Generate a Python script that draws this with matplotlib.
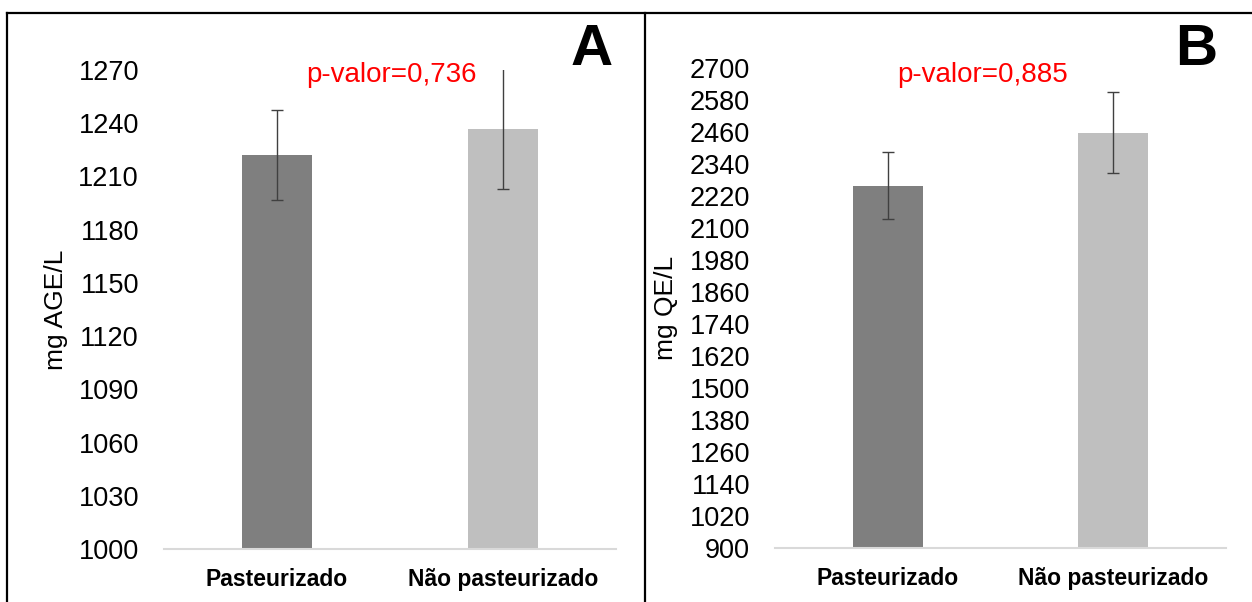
import numpy as np
import matplotlib
matplotlib.use("Agg")
import matplotlib.pyplot as plt
from matplotlib.lines import Line2D

plt.rcParams['font.family'] = ['Liberation Sans', 'DejaVu Sans']

categories = ["Pasteurizado", "Não pasteurizado"]
colors = ['#7F7F7F', '#BFBFBF']

# painel A - mg AGE/L
A_mean = [1222, 1237]
A_err = [25.5, 34]
A_ticks = [1000, 1030, 1060, 1090, 1120, 1150, 1180, 1210, 1240, 1270]

# painel B - mg QE/L
B_mean = [2259, 2458]
B_err = [125, 151]
B_ticks = [900, 1020, 1140, 1260, 1380, 1500, 1620, 1740, 1860, 1980,
           2100, 2220, 2340, 2460, 2580, 2700]

W, H = 1252, 602
fig = plt.figure(figsize=(W / 100, H / 100), dpi=100)


def panel(rect, means, errs, ticks, ylabel, ptext, ptext_x, letter, letter_x, labelx):
    ax = fig.add_axes(rect)
    xpos = np.arange(len(categories))
    ax.bar(xpos, means, width=0.31, color=colors, zorder=2)
    ax.errorbar(xpos, means, yerr=errs, fmt='none', ecolor='#404040',
                elinewidth=1, capsize=4, capthick=1, zorder=3)
    ax.set_xlim(-0.5, 1.5)
    ax.set_ylim(ticks[0], ticks[-1])
    ax.set_yticks(ticks)
    ax.set_yticklabels([str(t) for t in ticks], fontsize=19.5)
    ax.set_xticks(xpos)
    ax.set_xticklabels(categories, fontsize=16.5, fontweight='bold')
    ax.tick_params(axis='both', length=0)
    ax.tick_params(axis='y', pad=18)
    ax.tick_params(axis='x', pad=14)
    for s in ['top', 'right', 'left']:
        ax.spines[s].set_visible(False)
    ax.spines['bottom'].set_color('#D9D9D9')
    ax.spines['bottom'].set_linewidth(1.5)
    ax.set_ylabel(ylabel, fontsize=19)
    ax.yaxis.set_label_coords(labelx, 0.5)
    ax.patch.set_alpha(0)
    fig.text(ptext_x / W, 1 - 75 / H, ptext, color='#FF0000', fontsize=20,
             ha='center', va='center')
    fig.text(letter_x / W, 1 - 50 / H, letter, fontsize=42, fontweight='bold',
             ha='center', va='center')
    return ax


panel([164 / W, 1 - 549 / H, 452 / W, 479 / H], A_mean, A_err, A_ticks,
      'mg AGE/L', 'p-valor=0,736', 391, 'A', 592, -0.212)
panel([775 / W, 1 - 548 / H, 451 / W, 480 / H], B_mean, B_err, B_ticks,
      'mg QE/L', 'p-valor=0,885', 983, 'B', 1196, -0.216)

# molduras
fig.add_artist(Line2D([7 / W, 7 / W], [0, 1 - 12.5 / H], color='black', lw=1.6))
fig.add_artist(Line2D([645 / W, 645 / W], [0, 1 - 12.5 / H], color='black', lw=1.6))
fig.add_artist(Line2D([7 / W, 1], [1 - 12.5 / H, 1 - 12.5 / H], color='black', lw=1.6))

plt.savefig("out.png", dpi=100)
